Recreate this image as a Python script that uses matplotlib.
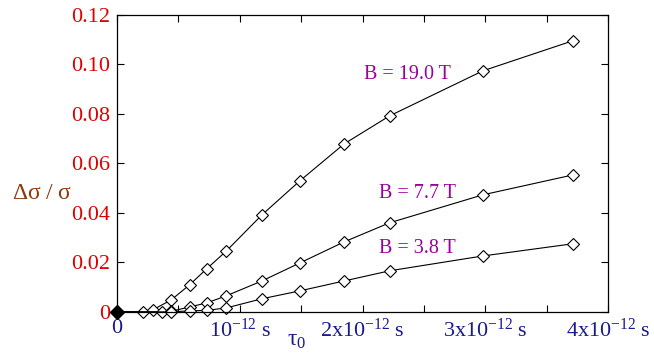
import numpy as np
import matplotlib
matplotlib.use("Agg")
import matplotlib.pyplot as plt

plt.rcParams['font.family'] = ['Liberation Serif', 'DejaVu Serif']
plt.rcParams['mathtext.fontset'] = 'custom'
plt.rcParams['mathtext.rm'] = 'Liberation Serif'
plt.rcParams['mathtext.it'] = 'Liberation Serif:italic'

# tau0 in units of 1e-12 s
tau_19 = [0, 0.21, 0.29, 0.44, 0.59, 0.73, 0.89, 1.18, 1.49, 1.85, 2.22, 2.98, 3.71]
ds_19 = [0, 0.0, 0.0008, 0.0048, 0.0109, 0.0174, 0.0246, 0.0392, 0.0530, 0.0679, 0.0792, 0.0974, 0.1095]

tau_77 = [0, 0.37, 0.44, 0.59, 0.73, 0.89, 1.18, 1.49, 1.85, 2.22, 2.98, 3.71]
ds_77 = [0, 0.0, 0.0002, 0.0020, 0.0036, 0.0065, 0.0125, 0.0198, 0.0283, 0.0360, 0.0473, 0.0553]

tau_38 = [0, 0.44, 0.59, 0.73, 0.89, 1.18, 1.49, 1.85, 2.22, 2.98, 3.71]
ds_38 = [0, 0.0, 0.0004, 0.0006, 0.0016, 0.0053, 0.0085, 0.0125, 0.0166, 0.0226, 0.0275]

labels = ["B = 19.0 T", "B = 7.7 T", "B = 3.8 T"]
label_pos = [(2.01, 0.096), (2.13, 0.048), (2.13, 0.0255)]

xticks = [0, 0.5, 1, 1.5, 2, 2.5, 3, 3.5, 4]
xticklabels = ['0', '', r'$\mathrm{10^{-12}\ s}$', '',
               r'$\mathrm{2x10^{-12}\ s}$', '', r'$\mathrm{3x10^{-12}\ s}$', '',
               r'$\mathrm{4x10^{-12}\ s}$']
yticks = [0, 0.02, 0.04, 0.06, 0.08, 0.10, 0.12]
yticklabels = ['0', '0.02', '0.04', '0.06', '0.08', '0.10', '0.12']

fig = plt.figure(figsize=(6.54, 3.54), dpi=100)
ax = fig.add_axes([0.179, 0.119, 0.751, 0.839])

for t, d in [(tau_19, ds_19), (tau_77, ds_77), (tau_38, ds_38)]:
    ax.plot(t, d, color='black', lw=0.8, marker='D', ms=6, mfc='white',
            mec='black', mew=0.8, clip_on=False)
ax.plot([0], [0], marker='D', ms=7, color='black', clip_on=False, zorder=5)

for lab, (x, y) in zip(labels, label_pos):
    ax.text(x, y, lab, color='#990099', fontsize=14.5, va='center', ha='left')

ax.set_xlim(0, 4)
ax.set_ylim(0, 0.12)
ax.set_xticks(xticks)
ax.set_xticklabels(xticklabels)
ax.set_yticks(yticks)
ax.set_yticklabels(yticklabels)
ax.tick_params(direction='in', top=True, right=True, length=5, width=0.8)
ax.tick_params(axis='x', colors='#1a1a8c', labelsize=16, pad=5)
ax.tick_params(axis='y', colors='#dd0000', labelsize=16, pad=5)
ax.tick_params(axis='both', color='black')
for s in ax.spines.values():
    s.set_linewidth(0.9)

# tau0 axis label sits among the tick labels
ax.text(1.46, -0.0072, r'$\mathrm{\tau_0}$', color='#1a1a8c', fontsize=17,
        ha='center', va='top', transform=ax.transData)

ax.set_ylabel(r'$\mathrm{\Delta\sigma\ /\ \sigma}$', rotation=0, color='#8b3a0f',
              fontsize=17, va='center', ha='center')
ax.yaxis.set_label_coords(-0.153, 0.40)

fig.savefig('out.png', dpi=100)
